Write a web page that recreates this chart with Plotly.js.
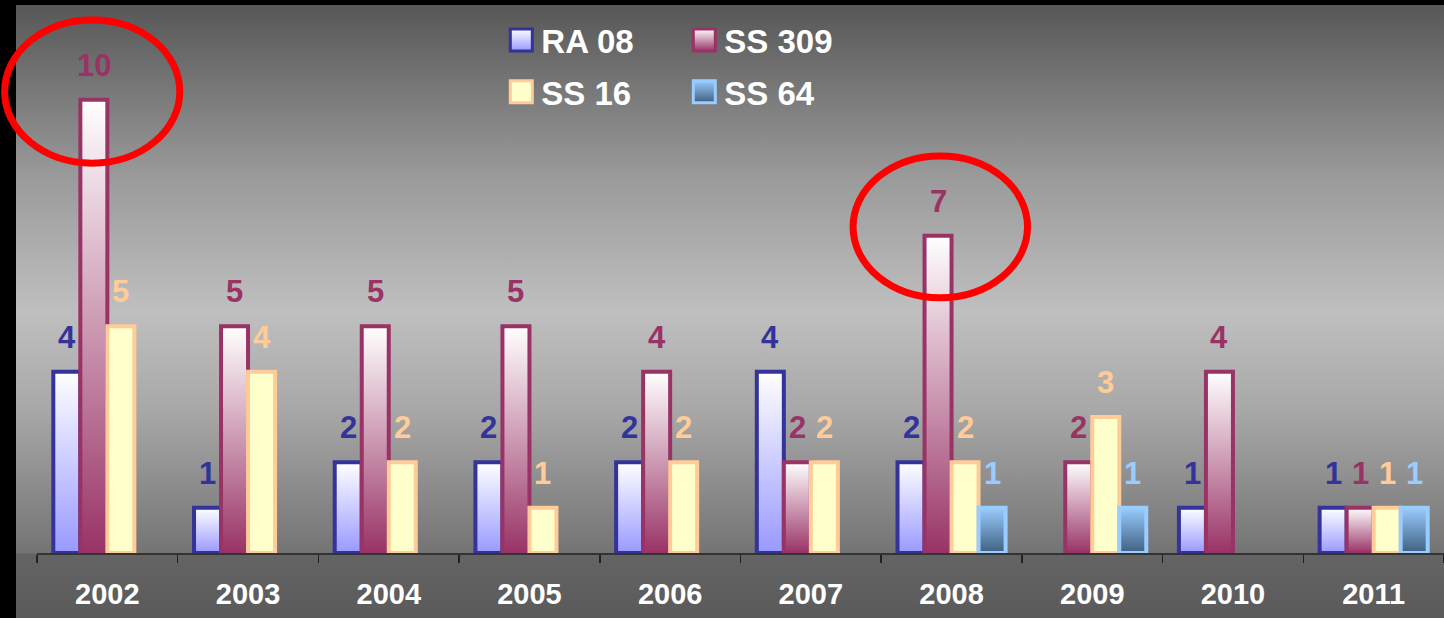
<!DOCTYPE html>
<html>
<head>
<meta charset="utf-8">
<script src="https://cdn.plot.ly/plotly-3.0.1.min.js"></script>
<style>
  html, body { margin:0; padding:0; background:#000; }
  #wrap { position:relative; width:1444px; height:618px; background:#000; overflow:hidden; }
  #bg { position:absolute; left:16px; top:5px; right:0; bottom:0;
        background: linear-gradient(to bottom, #575757 0%, #9a9a9a 28%, #bfbfbf 50%, #a8a8a8 66%, #747474 89.3%, #646464 89.6%, #5a5a5a 100%); }
  #chart { position:absolute; left:0; top:0; width:1444px; height:618px; }
</style>
</head>
<body>
<div id="wrap"><div id="bg"></div><div id="chart"></div></div>
<script>
// ---- data ----
const years = ['2002','2003','2004','2005','2006','2007','2008','2009','2010','2011'];
const seriesNames = ['RA 08','SS 309','SS 16','SS 64'];
const ra08  = [4, 1, 2, 2, 2, 4, 2, null, 1, 1];
const ss309 = [10, 5, 5, 5, 4, 2, 7, 2, 4, 1];
const ss16  = [5, 4, 2, 1, 2, 2, 2, 3, null, 1];
const ss64  = [null, null, null, null, null, null, 1, 1, null, 1];

// ---- styles ----
const lineColors = ['#333399', '#993366', '#ffcc99', '#99ccff'];
const baseFill   = ['#ccccff', '#cc99aa', '#ffffcc', '#6f94b8'];
const gradStops  = [
  ['#ffffff', '#9999ff'],
  ['#ffffff', '#993366'],
  ['#ffffcc', '#ffffcc'],
  ['#99ccff', '#3f5f80']
];
const allValues = [ra08, ss309, ss16, ss64];

const W = 1444, H = 618;
const margin = {l: 37, r: 0, t: 9, b: 65};
const bargap = 0.232;
const plotW = W - margin.l - margin.r;
const nCat = years.length;
const barPx = (plotW / nCat) * (1 - bargap) / seriesNames.length;
// category index -> paper x (so highlight ellipses are not clipped at the plot edge)
const catToPaper = c => (c + 0.5) / nCat;

const traces = allValues.map((vals, s) => ({
  type: 'bar',
  name: seriesNames[s],
  x: years,
  y: vals,
  legend: s < 2 ? 'legend' : 'legend2',
  marker: { color: baseFill[s], line: { color: lineColors[s], width: 4 } },
  textposition: 'none',
  hoverinfo: 'skip'
}));

const annotations = [];
allValues.forEach((vals, s) => {
  vals.forEach((v, i) => {
    if (v === null) return;
    annotations.push({
      x: i, y: v, xref: 'x', yref: 'y',
      text: String(v), showarrow: false,
      xshift: (s - 1.5) * barPx, yshift: 15, yanchor: 'bottom',
      font: { family: 'Liberation Sans, Arial, sans-serif', size: 31, color: lineColors[s], weight: 'bold' }
    });
  });
});

const legendFont = { family: 'Liberation Sans, Arial, sans-serif', size: 33, color: '#ffffff', weight: 'bold' };

const layout = {
  width: W, height: H, margin: margin,
  paper_bgcolor: 'rgba(0,0,0,0)', plot_bgcolor: 'rgba(0,0,0,0)',
  barmode: 'group', bargap: bargap, bargroupgap: 0,
  showlegend: true,
  legend: { orientation: 'h', x: 0.330, xanchor: 'left', y: 0.943, yanchor: 'middle',
            font: legendFont, bgcolor: 'rgba(0,0,0,0)', entrywidth: 138, entrywidthmode: 'pixels', itemclick: false },
  legend2: { orientation: 'h', x: 0.330, xanchor: 'left', y: 0.848, yanchor: 'middle',
             font: legendFont, bgcolor: 'rgba(0,0,0,0)', entrywidth: 138, entrywidthmode: 'pixels', itemclick: false },
  xaxis: {
    type: 'category', range: [-0.5, nCat - 0.5], autorange: false,
    showgrid: false, zeroline: false,
    showline: true, linecolor: '#333333', linewidth: 2,
    ticks: 'outside', tickson: 'boundaries', ticklen: 8, tickcolor: '#222222', tickwidth: 1.5,
    tickfont: { family: 'Liberation Sans, Arial, sans-serif', size: 29, color: '#ffffff', weight: 'bold' },
    tickangle: 0, ticklabelstandoff: 14, fixedrange: true
  },
  yaxis: { range: [0, 12], autorange: false, visible: false, showgrid: false, zeroline: false, fixedrange: true },
  annotations: annotations,
  shapes: [
    { type: 'circle', xref: 'paper', yref: 'y', x0: catToPaper(-0.73), x1: catToPaper(0.515), y0: 8.6, y1: 11.76,
      line: { color: '#ff0000', width: 7 } },
    { type: 'circle', xref: 'paper', yref: 'y', x0: catToPaper(5.30), x1: catToPaper(6.54), y0: 5.63, y1: 8.76,
      line: { color: '#ff0000', width: 7 } }
  ]
};

const NS = 'http://www.w3.org/2000/svg';
const BIG = 'M11,11H-11V-11H11Z';
function seriesOfLegendItem(item) {
  const d = item.__data__;
  if (d && d[0] && d[0].trace) return seriesNames.indexOf(d[0].trace.name);
  const txt = item.querySelector('.legendtext');
  return txt ? seriesNames.indexOf(txt.textContent.replace(/\u00a0/g, ' ').trim()) : -1;
}
function applyStyles(gd) {
  const svg = gd.querySelector('svg.main-svg');
  if (!svg) return;
  if (!document.getElementById('barGrad0')) {
    const defs = document.createElementNS(NS, 'defs');
    gradStops.forEach((st, s) => {
      const g = document.createElementNS(NS, 'linearGradient');
      g.setAttribute('id', 'barGrad' + s);
      g.setAttribute('x1', '0'); g.setAttribute('y1', '0');
      g.setAttribute('x2', '0'); g.setAttribute('y2', '1');
      st.forEach((c, k) => {
        const stop = document.createElementNS(NS, 'stop');
        stop.setAttribute('offset', k === 0 ? '0' : '1');
        stop.setAttribute('stop-color', c);
        g.appendChild(stop);
      });
      defs.appendChild(g);
    });
    svg.insertBefore(defs, svg.firstChild);
  }
  gd.querySelectorAll('.barlayer .trace').forEach((tr, s) => {
    tr.querySelectorAll('path').forEach(p => {
      const f = 'url("#barGrad' + s + '")';
      if (p.style.fill.indexOf('barGrad') < 0) p.style.fill = f;
    });
  });
  // legend swatches: larger squares with gradient
  document.querySelectorAll('.legendpoints path').forEach(p => {
    const item = p.closest('g.traces');
    if (!item) return;
    const s = seriesOfLegendItem(item);
    if (s < 0) return;
    if (p.getAttribute('d') !== BIG) p.setAttribute('d', BIG);
    if (p.style.fill.indexOf('barGrad') < 0) p.style.fill = 'url("#barGrad' + s + '")';
    if (p.style.strokeWidth !== '3px') p.style.strokeWidth = '3px';
  });
}

Plotly.newPlot('chart', traces, layout, { displayModeBar: false, staticPlot: true }).then(gd => {
  applyStyles(gd);
  gd.on('plotly_afterplot', () => applyStyles(gd));
  const mo = new MutationObserver(() => applyStyles(gd));
  mo.observe(gd, { subtree: true, childList: true, attributes: true, attributeFilter: ['d', 'style'] });
  setTimeout(() => applyStyles(gd), 50);
});
</script>
</body>
</html>
